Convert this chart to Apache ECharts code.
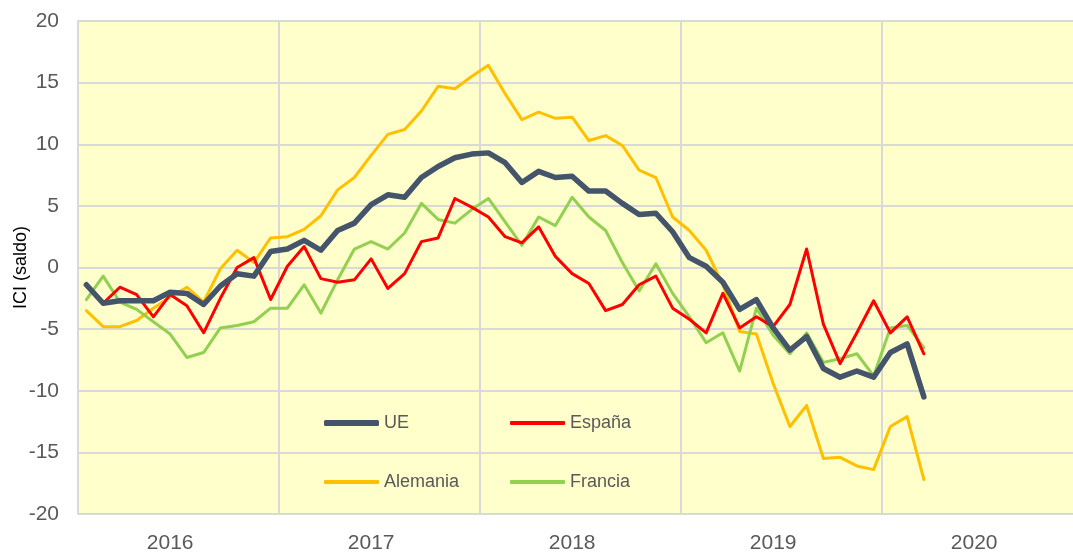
<!DOCTYPE html>
<html>
<head>
<meta charset="utf-8">
<script src="https://cdn.jsdelivr.net/npm/echarts@6/dist/echarts.min.js"></script>
<style>html,body{margin:0;padding:0;background:#fff}#c{width:1073px;height:553px}</style>
</head>
<body>
<div id="c"></div>
<script>
// Monthly categories Jan 2016 .. Dec 2020
const years = ['2016','2017','2018','2019','2020'];
const months = [];
years.forEach(y => { for (let m = 1; m <= 12; m++) months.push(y + '-' + (m < 10 ? '0' + m : m)); });

const yTicks = [-20, -15, -10, -5, 0, 5, 10, 15, 20];

const ue = [-1.4,-2.9,-2.7,-2.7,-2.7,-2.0,-2.1,-3.0,-1.5,-0.5,-0.7,1.3,
            1.5,2.2,1.4,3.0,3.6,5.1,5.9,5.7,7.3,8.2,8.9,9.2,
            9.3,8.5,6.9,7.8,7.3,7.4,6.2,6.2,5.2,4.3,4.4,2.9,
            0.8,0.1,-1.2,-3.4,-2.6,-4.9,-6.7,-5.6,-8.2,-8.9,-8.4,-8.9,
            -6.9,-6.2,-10.5];
const espana = [-1.5,-2.9,-1.6,-2.2,-4.0,-2.2,-3.1,-5.3,-2.5,0.0,0.8,-2.6,
            0.1,1.7,-0.9,-1.2,-1.0,0.7,-1.7,-0.5,2.1,2.4,5.6,4.9,
            4.1,2.5,2.0,3.3,0.9,-0.5,-1.3,-3.5,-3.0,-1.4,-0.7,-3.3,
            -4.2,-5.3,-2.1,-4.9,-4.0,-4.8,-3.0,1.5,-4.6,-7.8,-5.3,-2.7,
            -5.3,-4.0,-7.0];
const alemania = [-3.5,-4.8,-4.8,-4.3,-3.3,-2.4,-1.6,-2.8,-0.1,1.4,0.4,2.4,
            2.5,3.1,4.2,6.3,7.3,9.1,10.8,11.2,12.7,14.7,14.5,15.5,
            16.4,14.1,12.0,12.6,12.1,12.2,10.3,10.7,9.9,7.9,7.3,4.1,
            3.0,1.4,-1.4,-5.2,-5.4,-9.4,-12.9,-11.2,-15.5,-15.4,-16.1,-16.4,
            -12.9,-12.1,-17.2];
const francia = [-2.6,-0.7,-2.8,-3.4,-4.4,-5.4,-7.3,-6.9,-4.9,-4.7,-4.4,-3.3,
            -3.3,-1.4,-3.7,-1.0,1.5,2.1,1.5,2.8,5.2,3.9,3.6,4.7,
            5.6,3.7,1.8,4.1,3.4,5.7,4.1,3.0,0.4,-1.9,0.3,-2.1,
            -4.0,-6.1,-5.3,-8.4,-3.3,-5.5,-7.0,-5.3,-7.7,-7.4,-7.0,-8.8,
            -4.9,-4.7,-6.5];

const FONT = 'Liberation Sans, Arial, sans-serif';
const chart = echarts.init(document.getElementById('c'), null, {renderer: 'canvas'});

function mkSeries(name, data, color, width) {
  return {
    name: name, type: 'line', data: data, symbol: 'none', smooth: false,
    lineStyle: {color: color, width: width, join: 'round', cap: 'round'},
    itemStyle: {color: color}, z: name === 'UE' ? 3 : 2
  };
}
function mkLegend(name, left, top, color, h) {
  return {
    data: [{name: name, icon: 'roundRect', itemStyle: {color: color}}],
    left: left, top: top, itemWidth: 55, itemHeight: h, itemGap: 5,
    padding: 0, selectedMode: false,
    textStyle: {color: '#595959', fontSize: 18, fontFamily: FONT}
  };
}

chart.setOption({
  animation: false,
  backgroundColor: '#ffffff',
  textStyle: {fontFamily: FONT},
  grid: {left: 78, top: 21, height: 493, width: 1005, show: true,
         outerBoundsMode: 'none',
         backgroundColor: '#ffffcc', borderWidth: 0, containLabel: false},
  legend: [
    mkLegend('UE', 324, 414, '#44546a', 6),
    mkLegend('España', 510, 414, '#ff0000', 4),
    mkLegend('Alemania', 324, 473, '#ffc000', 4),
    mkLegend('Francia', 510, 473, '#92d050', 4)
  ],
  xAxis: {
    type: 'category', data: months, boundaryGap: true,
    axisLine: {show: true, lineStyle: {color: '#d9d9d9', width: 2}},
    axisTick: {show: false},
    splitLine: {show: true, interval: function (i) { return i % 12 === 0; },
                lineStyle: {color: '#d9d9d9', width: 2}},
    axisLabel: {interval: function (i) { return i % 12 === 5; },
                formatter: function (v) { return v.slice(0, 4); },
                color: '#595959', fontSize: 21, fontFamily: FONT, margin: 19}
  },
  yAxis: {
    type: 'value', min: yTicks[0], max: yTicks[yTicks.length - 1], interval: 5,
    name: 'ICI (saldo)', nameLocation: 'middle', nameGap: 48, nameMoveOverlap: false,
    nameTextStyle: {color: '#000000', fontSize: 18, fontFamily: FONT},
    axisLine: {show: true, lineStyle: {color: '#d9d9d9', width: 2}},
    axisTick: {show: false},
    splitLine: {show: true, lineStyle: {color: '#d9d9d9', width: 2}},
    axisLabel: {color: '#595959', fontSize: 21, fontFamily: FONT, margin: 19}
  },
  series: [
    mkSeries('Alemania', alemania, '#ffc000', 3),
    mkSeries('Francia', francia, '#92d050', 3),
    mkSeries('España', espana, '#ff0000', 3),
    mkSeries('UE', ue, '#44546a', 5.5)
  ]
});
</script>
</body>
</html>
